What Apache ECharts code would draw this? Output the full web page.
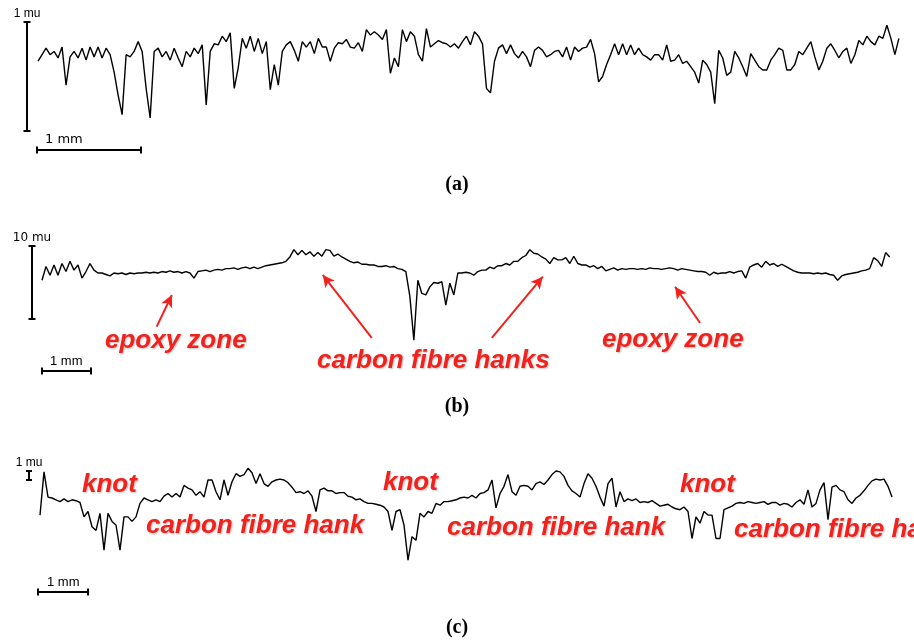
<!DOCTYPE html>
<html><head><meta charset="utf-8">
<script src="https://cdn.jsdelivr.net/npm/echarts@6/dist/echarts.min.js"></script>
<style>html,body{margin:0;padding:0;background:#fff}#c{width:914px;height:644px}</style>
</head><body><div id="c"></div>
<script>
// ---- profile heights (mu), sampled uniformly along the scan (mm) ----
const profileA = [
0.64,0.70,0.76,0.70,0.73,0.67,0.77,0.42,0.68,0.73,0.67,0.76,0.65,0.77,0.68,0.77,0.67,0.76,0.70,0.54,
0.33,0.15,0.70,0.68,0.73,0.82,0.73,0.39,0.12,0.73,0.76,0.68,0.73,0.65,0.76,0.67,0.59,0.73,0.68,0.76,
0.71,0.79,0.24,0.73,0.80,0.79,0.87,0.82,0.90,0.39,0.58,0.85,0.76,0.87,0.73,0.85,0.71,0.82,0.38,0.61,
0.42,0.73,0.79,0.82,0.74,0.64,0.82,0.77,0.82,0.71,0.85,
0.77,0.77,0.64,0.76,0.81,0.80,0.84,0.77,0.76,0.81,0.73,0.93,0.88,0.91,0.88,0.84,0.93,0.53,0.67,0.59,
0.93,0.82,0.91,0.87,0.70,0.64,0.94,0.77,0.80,0.83,0.81,0.80,0.77,0.80,0.76,0.82,0.87,0.79,0.91,0.87,
0.80,0.39,0.35,0.64,0.76,0.79,0.71,0.79,0.71,0.67,0.73,0.68,0.59,0.74,0.77,0.74,0.68,0.70,0.73,0.74,
0.68,0.77,0.65,0.77,0.73,0.76,0.77,0.84,0.71,0.45,0.50,0.61,
0.70,0.80,0.70,0.80,0.70,0.79,0.70,0.76,0.70,0.68,0.65,0.70,0.70,0.65,0.79,0.64,0.65,0.70,0.62,0.64,
0.59,0.54,0.44,0.65,0.61,0.54,0.25,0.74,0.67,0.51,0.54,0.73,0.67,0.59,0.50,0.71,0.65,0.59,0.56,0.56,
0.65,0.70,0.76,0.74,0.56,0.56,0.61,0.73,0.70,0.76,0.82,0.68,0.56,0.64,0.76,0.80,0.74,0.67,0.73,0.76,
0.62,0.70,0.83,0.79,0.87,0.82,0.79,0.87,0.85,0.97,0.85,0.70,0.85
];
const profileB = [
5.3,7.2,6.0,7.4,6.0,7.6,6.5,7.9,6.7,7.4,5.6,6.5,7.6,6.7,6.3,6.3,6.1,5.9,6.3,6.2,
6.3,6.1,6.3,6.2,6.3,6.3,6.4,6.3,6.4,6.3,6.5,6.4,6.6,6.4,6.5,6.3,6.5,6.3,5.6,6.5,
6.6,6.7,6.5,6.7,6.8,6.7,6.9,6.9,7.0,6.8,7.0,7.1,6.9,7.1,6.9,7.1,7.3,7.4,7.5,7.6,
7.7,7.9,8.5,9.5,8.8,9.4,8.8,9.2,8.6,9.1,
8.6,9.5,9.4,8.6,8.9,8.5,8.2,7.9,7.7,7.8,7.5,7.5,7.4,7.4,7.2,7.2,7.3,7.1,7.2,6.9,
6.8,6.5,3.1,-2.9,5.3,3.5,3.3,4.4,5.0,4.9,5.1,1.9,4.9,3.3,6.3,6.3,6.4,6.3,6.0,6.5,
6.7,6.7,7.1,6.9,7.3,7.3,7.6,7.4,7.9,7.9,8.4,8.7,9.5,9.0,8.9,8.5,8.2,7.6,8.4,8.1,
8.1,8.4,7.6,8.6,7.6,7.4,7.4,7.1,7.3,6.9,7.2,6.6,
6.8,7.0,6.7,6.9,6.8,6.9,6.9,6.8,6.9,6.8,7.0,6.9,6.9,6.8,6.9,7.0,6.9,6.7,6.9,6.8,
6.7,6.6,6.5,6.5,6.4,6.0,6.4,6.2,6.3,6.3,6.5,6.3,6.5,6.6,5.6,7.1,7.4,7.6,7.1,7.9,
7.4,7.6,7.2,7.5,7.2,6.9,6.6,6.4,6.3,6.3,6.3,6.2,6.3,6.2,6.3,6.1,6.0,5.3,5.9,6.1,
6.2,6.3,6.4,6.6,6.7,6.9,8.4,8.0,7.2,9.1,8.5
];
const profileC = [
-3.9,0.9,-1.9,-2.0,-2.2,-2.4,-2.1,-2.4,-2.2,-2.3,-2.5,-4.1,-3.5,-5.2,-5.6,-3.7,-7.8,-3.7,-4.6,-5.0,
-7.8,-4.1,-4.1,-4.6,-4.1,-2.6,-2.0,-2.2,-2.4,-2.2,-2.4,-1.8,-1.5,-1.9,-1.5,-1.9,-0.6,-0.9,-1.1,-1.7,
-1.3,-1.9,0.0,0.0,-1.3,-2.2,0.0,-1.7,-0.2,0.7,0.4,0.6,1.3,0.8,-0.4,0.7,-0.4,-0.7,-0.2,0.0,
0.1,0.0,-0.3,-0.8,-1.4,-1.3,-1.5,-1.2,-1.8,-3.5,
-1.1,-0.9,-1.2,-1.2,-1.5,-1.4,-1.4,-1.8,-1.9,-2.2,-2.1,-2.4,-2.6,-2.6,-2.7,-2.8,-3.0,-3.5,-5.6,-3.5,
-3.3,-5.0,-8.9,-6.3,-6.7,-3.7,-4.1,-3.5,-3.7,-2.6,-2.8,-2.4,-2.4,-2.3,-2.2,-2.0,-1.9,-2.0,-1.7,-2.0,
-1.5,-1.4,-1.1,0.0,-3.1,-1.5,-0.7,0.6,-1.3,-1.7,-0.7,-0.6,-0.7,-1.1,-0.4,-0.2,-0.5,0.0,0.6,1.0,
0.9,0.4,-0.6,-1.2,-1.5,-1.9,-0.4,0.7,0.2,-0.7,-1.9,-2.9,
-0.4,0.2,-3.0,-1.3,-2.4,-2.1,-2.3,-2.1,-2.5,-2.4,-2.5,-2.3,-2.6,-2.9,-2.8,-2.7,-3.0,-3.2,-3.3,-3.0,
-3.5,-6.5,-4.1,-4.8,-3.5,-3.9,-3.9,-6.5,-6.5,-3.3,-3.1,-2.9,-2.6,-2.5,-2.6,-2.4,-2.5,-2.6,-2.5,-2.4,
-2.7,-2.5,-2.5,-2.8,-2.6,-2.7,-3.0,-2.5,-2.2,-2.7,-1.1,-3.0,-2.6,-1.1,-0.3,-4.4,-0.8,-0.6,-1.1,-1.3,
-2.2,-2.6,-2.0,-1.7,-1.2,-0.6,-0.1,0.1,0.0,0.1,-0.7,-1.9
];
// sampling (mm): start position and step along the scan
const sampleA = {start: 0.01, step: 0.0385};
const sampleB = {start: 0.0,  step: 0.0816};
const sampleC = {start: 0.04, step: 0.08};
// scale bars: length in mu (vertical) and mm (horizontal)
const scaleLabelsV = ['1 mu', '10 mu', '1 mu'];
const scaleLenV = [1, 10, 1];
const scaleLabelH = '1 mm';
// annotation arrows of panel (b): [tail, tip] in (mm, mu)
const arrowsB = [
  [[2.34, -1.05], [2.65, 3.29]],
  [[6.73, -2.60], [5.73, 6.03]],
  [[9.18, -2.60], [10.22, 5.79]],
  [[13.43, -0.55], [12.92, 4.42]]
];
const captions = ['(a)', '(b)', '(c)'];

// ---- layout ----
const panels = [
  {vals: profileA, s: sampleA, pxMm: 104, pxMu: 109, x0: 37, y0: 131, xr: [-0.25, 8.4], yr: [-0.35, 1.2],
   vbarX: -0.096, hbarY: -0.174, cap: 7, vFam: 'Liberation Sans', vSize: 12, hFam: 'DejaVu Sans', hSize: 13, hOff: 8, capY: 185},
  {vals: profileB, s: sampleB, pxMm: 49, pxMu: 7.3, x0: 42, y0: 319, xr: [-0.5, 17.6], yr: [-8, 12],
   vbarX: -0.204, hbarY: -7.12, cap: 7, vFam: 'DejaVu Sans', vSize: 12, hFam: 'Liberation Sans', hSize: 13, hOff: 8, capY: 407},
  {vals: profileC, s: sampleC, pxMm: 50, pxMu: 9, x0: 38, y0: 480, xr: [-0.5, 17.5], yr: [-14, 4],
   vbarX: -0.18, hbarY: -12.44, cap: 6, vFam: 'Liberation Sans', vSize: 12, hFam: 'Liberation Sans', hSize: 13, hOff: 9, capY: 628}
];

const RED = '#f2211c';
const grids = [], xAxes = [], yAxes = [], series = [];
panels.forEach((p, k) => {
  grids.push({left: p.x0 + p.xr[0] * p.pxMm, top: p.y0 - p.yr[1] * p.pxMu,
              width: (p.xr[1] - p.xr[0]) * p.pxMm, height: (p.yr[1] - p.yr[0]) * p.pxMu});
  xAxes.push({type: 'value', gridIndex: k, min: p.xr[0], max: p.xr[1], show: false});
  yAxes.push({type: 'value', gridIndex: k, min: p.yr[0], max: p.yr[1], show: false});
  const trace = {
    type: 'line', xAxisIndex: k, yAxisIndex: k, silent: true, animation: false,
    symbol: 'none', clip: false,
    lineStyle: {color: '#000', width: 1.4},
    data: p.vals.map((v, i) => [p.s.start + i * p.s.step, v])
  };
  if (k === 1) {
    trace.markLine = {
      silent: true, animation: false, symbol: ['none', 'arrow'], symbolSize: [9, 12],
      lineStyle: {color: RED, width: 2, type: 'solid'}, label: {show: false},
      data: arrowsB.map(a => [{coord: a[0]}, {coord: a[1]}])
    };
  }
  series.push(trace);
  // vertical scale bar
  series.push({
    type: 'line', xAxisIndex: k, yAxisIndex: k, silent: true, animation: false, clip: false,
    symbol: 'rect', symbolSize: [p.cap, 2], showSymbol: true,
    lineStyle: {color: '#000', width: 2}, itemStyle: {color: '#000'},
    data: [[p.vbarX, 0], {value: [p.vbarX, scaleLenV[k]],
      label: {show: true, position: 'top', distance: 1, formatter: scaleLabelsV[k],
              fontFamily: p.vFam, fontSize: p.vSize, color: '#000'}}]
  });
  // horizontal scale bar
  series.push({
    type: 'line', xAxisIndex: k, yAxisIndex: k, silent: true, animation: false, clip: false,
    symbol: 'rect', symbolSize: [2, 7], showSymbol: true,
    lineStyle: {color: '#000', width: 2}, itemStyle: {color: '#000'},
    data: [{value: [0, p.hbarY],
      label: {show: true, position: 'top', align: 'left', distance: 0, offset: [p.hOff, 0],
              formatter: scaleLabelH, fontFamily: p.hFam, fontSize: p.hSize, color: '#000'}}, [1, p.hbarY]]
  });
});

const annFont = 'italic bold 26px "Liberation Sans"';
const annotations = [
  ['epoxy zone', 105, 341], ['carbon fibre hanks', 317, 361], ['epoxy zone', 602, 340],
  ['knot', 82, 485], ['carbon fibre hank', 146, 526], ['knot', 383, 483],
  ['carbon fibre hank', 447, 528], ['knot', 680, 485], ['carbon fibre hank', 734, 530]
];
const graphic = annotations.map(a => ({
  type: 'text', x: a[1], y: a[2], silent: true,
  style: {text: a[0], font: annFont, fill: RED, textAlign: 'left', textVerticalAlign: 'middle',
          textShadowColor: 'rgba(0,0,0,0.25)', textShadowBlur: 2, textShadowOffsetX: 1, textShadowOffsetY: 1}
})).concat(panels.map((p, k) => ({
  type: 'text', x: 457, y: p.capY, silent: true,
  style: {text: captions[k], font: 'bold 20px "Liberation Serif"', fill: '#000',
          textAlign: 'center', textVerticalAlign: 'middle'}
})));

const chart = echarts.init(document.getElementById('c'));
chart.setOption({animation: false, grid: grids, xAxis: xAxes, yAxis: yAxes, series: series, graphic: graphic});
</script></body></html>
